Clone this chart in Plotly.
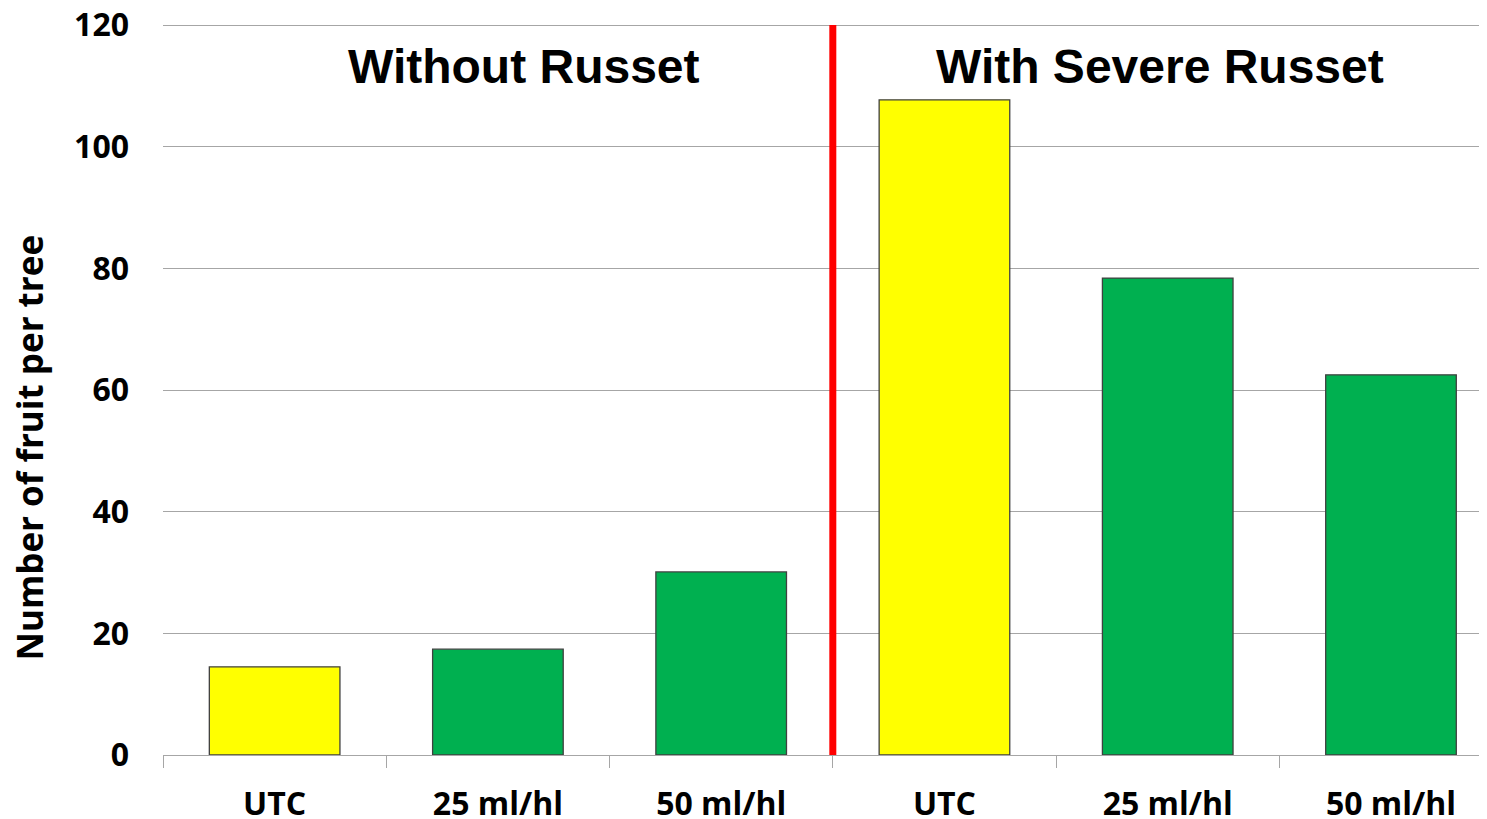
import plotly.graph_objects as go

categories = ["UTC", "25 ml/hl", "50 ml/hl", "UTC", "25 ml/hl", "50 ml/hl"]
values = [14.5, 17.4, 30.1, 107.7, 78.4, 62.5]
colors = ["#FFFF00", "#00B050", "#00B050", "#FFFF00", "#00B050", "#00B050"]
groups = ["Without Russet", "With Severe Russet"]
yticks = [0, 20, 40, 60, 80, 100, 120]

x = list(range(len(categories)))
n_per_group = 3

fig = go.Figure()
fig.add_trace(go.Bar(
    x=x, y=values,
    marker=dict(color=colors, line=dict(color="#404040", width=1.3)),
    width=0.585,
    hoverinfo="skip",
))

tickfont = dict(family="Open Sans", size=32, color="black", weight="bold")

# page body has an 8px margin, so the figure is sized/offset to compensate.
# Plot area is 2px taller than the 0..120 span so the 120 gridline is drawn.
ymax = max(yticks) + 2 / (730 / max(yticks))
fig.update_layout(
    width=1479, height=811,
    margin=dict(l=155, r=0, t=15, b=64, autoexpand=False),
    plot_bgcolor="white", paper_bgcolor="white",
    showlegend=False,
    xaxis=dict(
        range=[-0.5, len(categories) - 0.57],
        tickvals=x, ticktext=categories,
        ticks="", tickfont=tickfont,
        showgrid=False, zeroline=False, automargin=False,
        showline=True, linecolor="#A6A6A6", linewidth=1.3,
        ticklabelstandoff=20, ticklabeloverflow="allow",
        minor=dict(tickvals=[i - 0.5 for i in range(len(categories) + 1)],
                   ticks="outside", ticklen=12, tickcolor="#A6A6A6", tickwidth=1.3,
                   showgrid=False),
    ),
    yaxis=dict(
        range=[0, ymax], tickvals=yticks,
        tickfont=tickfont, automargin=False,
        showgrid=True, gridcolor="#A6A6A6", gridwidth=1,
        zeroline=False, showline=False, ticks="",
        ticklabelstandoff=33, ticklabeloverflow="allow",
    ),
)

# y-axis title (rotated annotation, centred lower than the plot middle as in the reference)
fig.add_annotation(x=0, y=0.42, xref="paper", yref="paper", xshift=-133,
                   xanchor="center", yanchor="middle", textangle=-90,
                   text="Number of fruit per tree", showarrow=False,
                   font=dict(family="Open Sans", size=35, color="black", weight="bold"))

# group separator, spanning the 0..120 value range
sep = n_per_group - 0.5
fig.add_shape(type="line", xref="x", yref="y", x0=sep, x1=sep, y0=0, y1=max(yticks),
              line=dict(color="#FF0000", width=7))

offsets = [0.117, -0.035]
for gi, g in enumerate(groups):
    cx = gi * n_per_group + (n_per_group - 1) / 2
    fig.add_annotation(x=cx + offsets[gi], y=0.941, xref="x", yref="paper",
                       xanchor="center", yanchor="middle",
                       text=g, showarrow=False,
                       font=dict(family="Liberation Sans", size=48, color="black", weight="bold"))

fig.write_html("out.html")
